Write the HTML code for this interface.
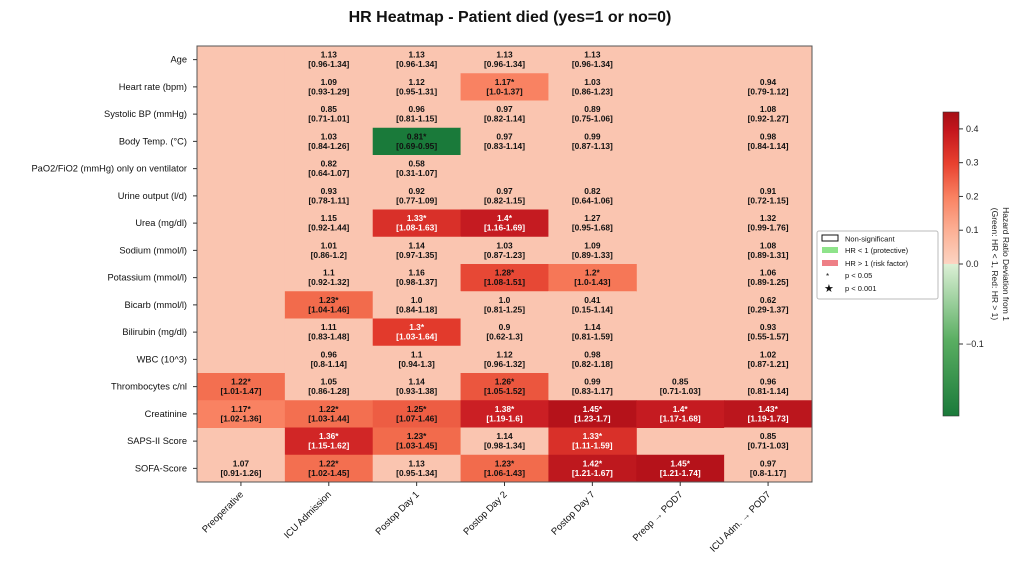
<!DOCTYPE html>
<html><head><meta charset="utf-8"><style>
body{margin:0;background:#fff;width:1022px;height:562px;overflow:hidden;font-family:"Liberation Sans","DejaVu Sans",sans-serif}
</style></head><body>
<svg id="chart" width="1022" height="562" viewBox="0 0 1022 562" xmlns="http://www.w3.org/2000/svg" font-family="Liberation Sans, DejaVu Sans, sans-serif">
<text x="510" y="22" text-anchor="middle" font-size="16" font-weight="bold" fill="#111">HR Heatmap - Patient died (yes=1 or no=0)</text>
<g id="cells"></g>
<rect x="197" y="46" width="615" height="436" fill="none" stroke="#555" stroke-width="1"/>
<g id="axes"></g>
<g>
<rect x="817" y="231" width="121" height="68" fill="#fff" stroke="#bbb" stroke-width="1" rx="2"/>
<rect x="822" y="235" width="16" height="6" fill="none" stroke="#111"/>
<text x="845" y="241.5" font-size="7.5" fill="#111">Non-significant</text>
<rect x="822" y="247" width="16" height="6" fill="#8ee38a"/>
<text x="845" y="253" font-size="7.5" fill="#111">HR &lt; 1 (protective)</text>
<rect x="822" y="260" width="16" height="6" fill="#ee7f86"/>
<text x="845" y="266" font-size="7.5" fill="#111">HR &gt; 1 (risk factor)</text>
<text x="826" y="279" font-size="8" fill="#111">*</text>
<text x="845" y="278" font-size="7.5" fill="#111">p &lt; 0.05</text>
<text x="824" y="292" font-size="11" fill="#111">★</text>
<text x="845" y="291" font-size="7.5" fill="#111">p &lt; 0.001</text>
</g>
<defs>
<linearGradient id="cbgrad" x1="0" y1="1" x2="0" y2="0">
<stop offset="0" stop-color="#1a7a3a"/>
<stop offset="0.25" stop-color="#5aae62"/>
<stop offset="0.5" stop-color="#dcf0d6"/>
<stop offset="0.5" stop-color="#fcd4c2"/>
<stop offset="0.61" stop-color="#fcb095"/>
<stop offset="0.72" stop-color="#f98262"/>
<stop offset="0.83" stop-color="#e8412f"/>
<stop offset="0.94" stop-color="#c4161d"/>
<stop offset="1" stop-color="#a50f15"/>
</linearGradient>
</defs>
<rect x="943" y="112" width="16" height="304" fill="url(#cbgrad)" stroke="#333" stroke-width="0.6"/>
<g id="cbticks"></g>
<text transform="translate(1003,264) rotate(90)" text-anchor="middle" font-size="8.5" fill="#222"><tspan x="0" dy="0">Hazard Ratio Deviation from 1</tspan><tspan x="0" dy="11">(Green: HR &lt; 1, Red: HR &gt; 1)</tspan></text>
</svg>
<script>
const rows = ["Age","Heart rate (bpm)","Systolic BP (mmHg)","Body Temp. (°C)","PaO2/FiO2 (mmHg) only on ventilator","Urine output (l/d)","Urea (mg/dl)","Sodium (mmol/l)","Potassium (mmol/l)","Bicarb (mmol/l)","Bilirubin (mg/dl)","WBC (10^3)","Thrombocytes c/nl","Creatinine","SAPS-II Score","SOFA-Score"];
const cols = ["Preoperative","ICU Admission","Postop Day 1","Postop Day 2","Postop Day 7","Preop → POD7","ICU Adm. → POD7"];
const hr = [
[null,1.13,1.13,1.13,1.13,null,null],
[null,1.09,1.12,1.17,1.03,null,0.94],
[null,0.85,0.96,0.97,0.89,null,1.08],
[null,1.03,0.81,0.97,0.99,null,0.98],
[null,0.82,0.58,null,null,null,null],
[null,0.93,0.92,0.97,0.82,null,0.91],
[null,1.15,1.33,1.4,1.27,null,1.32],
[null,1.01,1.14,1.03,1.09,null,1.08],
[null,1.1,1.16,1.28,1.2,null,1.06],
[null,1.23,1.0,1.0,0.41,null,0.62],
[null,1.11,1.3,0.9,1.14,null,0.93],
[null,0.96,1.1,1.12,0.98,null,1.02],
[1.22,1.05,1.14,1.26,0.99,0.85,0.96],
[1.17,1.22,1.25,1.38,1.45,1.4,1.43],
[null,1.36,1.23,1.14,1.33,null,0.85],
[1.07,1.22,1.13,1.23,1.42,1.45,0.97]];
const lo = [
[null,0.96,0.96,0.96,0.96,null,null],
[null,0.93,0.95,1.0,0.86,null,0.79],
[null,0.71,0.81,0.82,0.75,null,0.92],
[null,0.84,0.69,0.83,0.87,null,0.84],
[null,0.64,0.31,null,null,null,null],
[null,0.78,0.77,0.82,0.64,null,0.72],
[null,0.92,1.08,1.16,0.95,null,0.99],
[null,0.86,0.97,0.87,0.89,null,0.89],
[null,0.92,0.98,1.08,1.0,null,0.89],
[null,1.04,0.84,0.81,0.15,null,0.29],
[null,0.83,1.03,0.62,0.81,null,0.55],
[null,0.8,0.94,0.96,0.82,null,0.87],
[1.01,0.86,0.93,1.05,0.83,0.71,0.81],
[1.02,1.03,1.07,1.19,1.23,1.17,1.19],
[null,1.15,1.03,0.98,1.11,null,0.71],
[0.91,1.02,0.95,1.06,1.21,1.21,0.8]];
const hi = [
[null,1.34,1.34,1.34,1.34,null,null],
[null,1.29,1.31,1.37,1.23,null,1.12],
[null,1.01,1.15,1.14,1.06,null,1.27],
[null,1.26,0.95,1.14,1.13,null,1.14],
[null,1.07,1.07,null,null,null,null],
[null,1.11,1.09,1.15,1.06,null,1.15],
[null,1.44,1.63,1.69,1.68,null,1.76],
[null,1.2,1.35,1.23,1.33,null,1.31],
[null,1.32,1.37,1.51,1.43,null,1.25],
[null,1.46,1.18,1.25,1.14,null,1.37],
[null,1.48,1.64,1.3,1.59,null,1.57],
[null,1.14,1.3,1.32,1.18,null,1.21],
[1.47,1.28,1.38,1.52,1.17,1.03,1.14],
[1.36,1.44,1.46,1.6,1.7,1.68,1.73],
[null,1.62,1.45,1.34,1.59,null,1.03],
[1.26,1.45,1.34,1.43,1.67,1.74,1.17]];
const sig = [
[0,0,0,0,0,0,0],
[0,0,0,1,0,0,0],
[0,0,0,0,0,0,0],
[0,0,1,0,0,0,0],
[0,0,0,0,0,0,0],
[0,0,0,0,0,0,0],
[0,0,1,1,0,0,0],
[0,0,0,0,0,0,0],
[0,0,0,1,1,0,0],
[0,1,0,0,0,0,0],
[0,0,1,0,0,0,0],
[0,0,0,0,0,0,0],
[1,0,0,1,0,0,0],
[1,1,1,1,1,1,1],
[0,1,1,0,1,0,0],
[0,1,0,1,1,1,0]];
const cbTicks = [0.4,0.3,0.2,0.1,0.0,-0.1];

const NS="http://www.w3.org/2000/svg";
const X0=197,Y0=46,W=615,H=436;
const cw=W/cols.length, rh=H/rows.length;
const xPos=j=>X0+j*cw, yPos=i=>Y0+i*rh;
const cbTop=112,cbBot=416,cbZero=264;
const cbY=v=>v>=0?cbZero-v/0.45*(cbZero-cbTop):cbZero+(-v)/0.19*(cbBot-cbZero);
function lerp(a,b,t){return a+(b-a)*t}
function hex(h){return [1,3,5].map(k=>parseInt(h.substr(k,2),16))}
function ramp(stops,v){
  for(let k=0;k<stops.length-1;k++){const [a,ca]=stops[k],[b,cb]=stops[k+1];
    if(v<=b||k==stops.length-2){const t=Math.max(0,Math.min(1,(v-a)/(b-a)));const A=hex(ca),B=hex(cb);
      return `rgb(${A.map((x,m)=>Math.round(lerp(x,B[m],t))).join(',')})`;}}
}
const redStops=[[0,'#fcd4c2'],[0.1,'#fcb095'],[0.17,'#f98262'],[0.23,'#f26b4c'],[0.3,'#e23a2c'],[0.38,'#cb1f24'],[0.45,'#b5121a']];
const greenStops=[[0,'#d8efd2'],[0.1,'#7cc27d'],[0.19,'#1a7a3a']];
function color(v,s){if(!s)return '#fac5b0';const d=v-1;return d>=0?ramp(redStops,d):ramp(greenStops,-d);}
function fmt(v){return Number.isInteger(v)?v.toFixed(1):String(v)}
const cells=document.getElementById('cells');
const bg=document.createElementNS(NS,'rect');


bg.setAttribute('x',X0);bg.setAttribute('y',Y0);bg.setAttribute('width',W);bg.setAttribute('height',H);bg.setAttribute('fill','#fac5b0');
cells.appendChild(bg);
for(let i=0;i<rows.length;i++)for(let j=0;j<cols.length;j++){
  const v=hr[i][j]; if(v===null)continue;
  const g=document.createElementNS(NS,'g');
  
  
  const r=document.createElementNS(NS,'rect');
  
  
  r.setAttribute('x',xPos(j));r.setAttribute('y',yPos(i));r.setAttribute('width',cw+0.5);r.setAttribute('height',rh+0.5);
  r.setAttribute('fill',color(v,sig[i][j]));g.appendChild(r);
  const white=sig[i][j]&&v-1>0.29;
  const t=document.createElementNS(NS,'text');
  
  
  t.setAttribute('x',xPos(j)+cw/2);t.setAttribute('y',yPos(i)+rh/2-2);t.setAttribute('text-anchor','middle');
  t.setAttribute('font-size','8.4');t.setAttribute('font-weight','bold');t.setAttribute('fill',white?'#fff':'#111');
  t.textContent=fmt(v)+(sig[i][j]?'*':'');g.appendChild(t);
  const t2=document.createElementNS(NS,'text');
  
  
  t2.setAttribute('x',xPos(j)+cw/2);t2.setAttribute('y',yPos(i)+rh/2+7.5);t2.setAttribute('text-anchor','middle');
  t2.setAttribute('font-size','8.4');t2.setAttribute('font-weight','bold');t2.setAttribute('fill',white?'#fff':'#111');
  t2.textContent='['+fmt(lo[i][j])+'-'+fmt(hi[i][j])+']';g.appendChild(t2);
  cells.appendChild(g);
}
const axes=document.getElementById('axes');
rows.forEach((r,i)=>{
  const y=yPos(i)+rh/2;
  const tk=document.createElementNS(NS,'line');
  
  
  tk.setAttribute('x1',X0-4);tk.setAttribute('x2',X0);tk.setAttribute('y1',y);tk.setAttribute('y2',y);tk.setAttribute('stroke','#333');
  axes.appendChild(tk);
  const t=document.createElementNS(NS,'text');
  
  
  t.setAttribute('x',X0-10);t.setAttribute('y',y+3);t.setAttribute('text-anchor','end');t.setAttribute('font-size','9.3');t.setAttribute('fill','#111');
  t.textContent=r;axes.appendChild(t);
});
cols.forEach((c,j)=>{
  const x=xPos(j)+cw/2;
  const tk=document.createElementNS(NS,'line');
  
  
  tk.setAttribute('x1',x);tk.setAttribute('x2',x);tk.setAttribute('y1',Y0+H);tk.setAttribute('y2',Y0+H+4);tk.setAttribute('stroke','#333');
  axes.appendChild(tk);
  const t=document.createElementNS(NS,'text');
  
  
  t.setAttribute('transform',`translate(${x+3},${Y0+H+13}) rotate(-45)`);t.setAttribute('text-anchor','end');t.setAttribute('font-size','9.5');t.setAttribute('fill','#111');
  t.textContent=c;axes.appendChild(t);
});
const cbt=document.getElementById('cbticks');
cbTicks.forEach(v=>{
  const y=cbY(v);
  const tk=document.createElementNS(NS,'line');
  
  
  tk.setAttribute('x1',959);tk.setAttribute('x2',963);tk.setAttribute('y1',y);tk.setAttribute('y2',y);tk.setAttribute('stroke','#333');
  cbt.appendChild(tk);
  const t=document.createElementNS(NS,'text');
  
  
  t.setAttribute('x',966);t.setAttribute('y',y+3);t.setAttribute('font-size','9');t.setAttribute('fill','#222');
  t.textContent=v<0?'−'+Math.abs(v).toFixed(1):v.toFixed(1);cbt.appendChild(t);
});
</script>
</body></html>
